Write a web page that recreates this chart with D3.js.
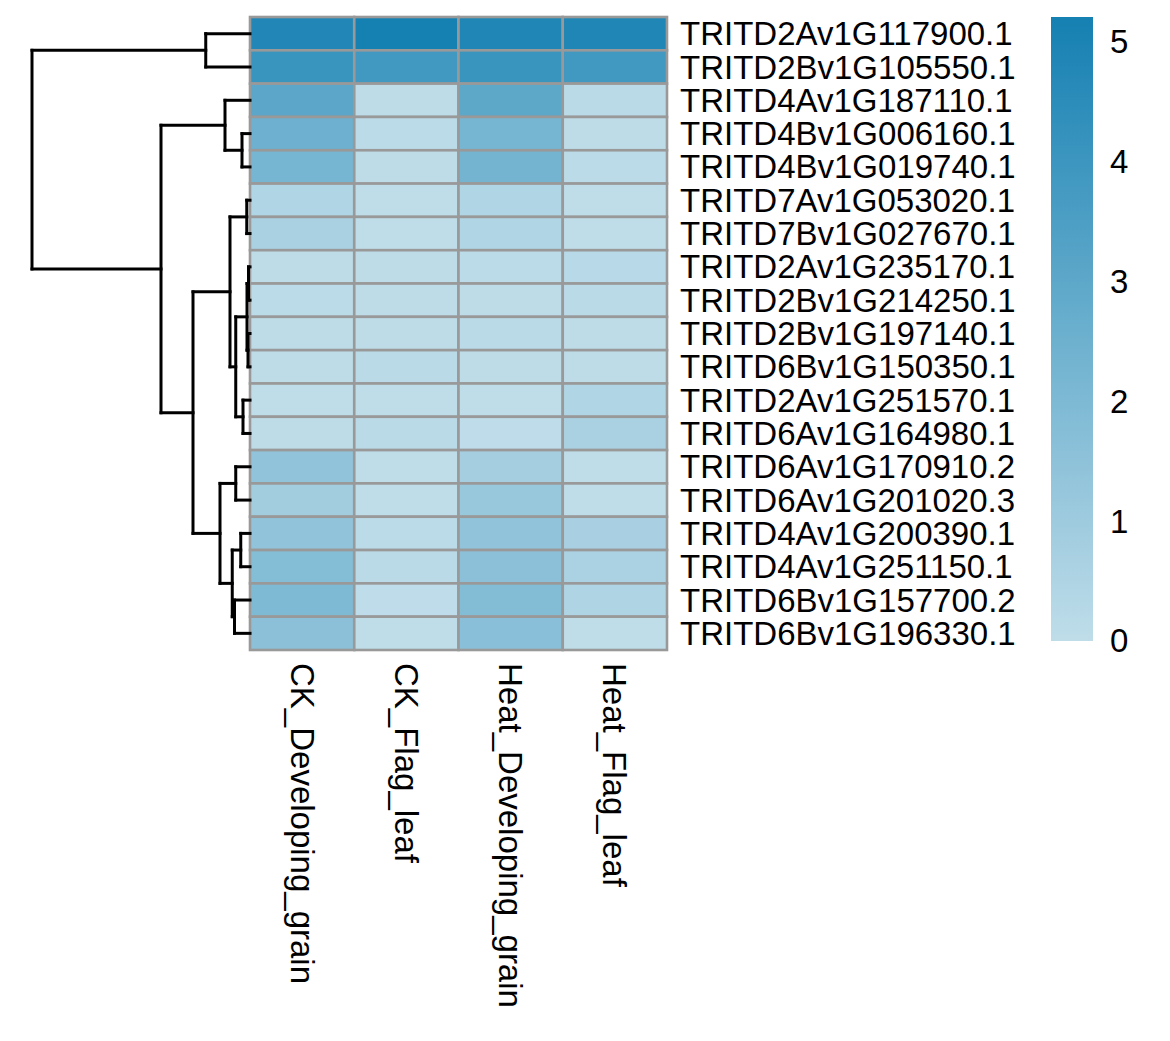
<!DOCTYPE html>
<html>
<head>
<meta charset="utf-8">
<script src="https://cdn.jsdelivr.net/npm/d3@7"></script>
<style>
  html, body { margin: 0; padding: 0; background: #ffffff; }
  svg { display: block; font-family: "Liberation Sans", Arial, sans-serif; }
</style>
</head>
<body>
<svg id="chart" width="1170" height="1041"></svg>
<script>
// ---------------- data ----------------
const rowLabels = [
  "TRITD2Av1G117900.1", "TRITD2Bv1G105550.1", "TRITD4Av1G187110.1",
  "TRITD4Bv1G006160.1", "TRITD4Bv1G019740.1", "TRITD7Av1G053020.1",
  "TRITD7Bv1G027670.1", "TRITD2Av1G235170.1", "TRITD2Bv1G214250.1",
  "TRITD2Bv1G197140.1", "TRITD6Bv1G150350.1", "TRITD2Av1G251570.1",
  "TRITD6Av1G164980.1", "TRITD6Av1G170910.2", "TRITD6Av1G201020.3",
  "TRITD4Av1G200390.1", "TRITD4Av1G251150.1", "TRITD6Bv1G157700.2",
  "TRITD6Bv1G196330.1"
];
const colLabels = ["CK_Developing_grain", "CK_Flag_leaf", "Heat_Developing_grain", "Heat_Flag_leaf"];

const ckDevelopingGrain   = [4.80, 4.10, 3.05, 2.50, 2.20, 0.45, 0.65, 0.05, 0.10, 0.05, 0.05, 0.00, 0.05, 1.40, 0.90, 1.40, 1.80, 1.95, 1.60];
const ckFlagLeaf          = [5.20, 3.85, 0.05, 0.10, 0.05, 0.00, 0.00, 0.05, 0.05, 0.05, 0.15, 0.02, 0.15, 0.02, 0.00, 0.10, 0.15, 0.03, 0.02];
const heatDevelopingGrain = [4.85, 4.10, 3.00, 2.20, 2.30, 0.45, 0.45, 0.10, 0.05, 0.15, 0.05, 0.02, 0.03, 0.80, 1.20, 1.40, 1.60, 1.85, 1.65];
const heatFlagLeaf        = [4.85, 3.85, 0.15, 0.05, 0.10, 0.00, 0.00, 0.20, 0.15, 0.05, 0.05, 0.45, 0.65, 0.02, 0.02, 0.70, 0.60, 0.50, 0.02];
const seriesValues = [ckDevelopingGrain, ckFlagLeaf, heatDevelopingGrain, heatFlagLeaf];

const legendTicks = [0, 1, 2, 3, 4, 5];
const valueRange = [0, 5.2];
const colorStops = ["#bfdde9", "#1580b2"];

// row dendrogram, hclust-style merges: negative = leaf (1-based row), positive = earlier merge
const mergeLeft   = [-1, -4, -3, -6, -8, -10, 5, -12, 7, 4, -14, -16, -18, 12, 11, 10, 3, 1];
const mergeRight  = [-2, -5,  2, -7, -9, -11, 6, -13, 8, 9, -15, -17, -19, 13, 14, 15, 16, 17];
const mergeHeight = [1.77, 0.32, 1.00, 0.13, 0.06, 0.08, 0.12, 0.28, 0.57, 0.80, 0.57, 0.37, 0.62, 0.71, 1.20, 2.28, 3.56, 8.72];

// ---------------- layout ----------------
const svg = d3.select("#chart");
const grid = { left: 250, right: 667, top: 17, bottom: 650 };
const fontSize = 33;

const x = d3.scaleBand().domain(colLabels).range([grid.left, grid.right]).padding(0);
const y = d3.scaleBand().domain(rowLabels).range([grid.top, grid.bottom]).padding(0);
const color = d3.scaleLinear().domain(valueRange).range(colorStops).interpolate(d3.interpolateRgb).clamp(true);

// ---------------- cells ----------------
const cells = [];
colLabels.forEach((c, j) => rowLabels.forEach((r, i) => cells.push({ row: r, col: c, value: seriesValues[j][i] })));

svg.append("g").selectAll("rect").data(cells).join("rect")
  .attr("x", d => x(d.col))
  .attr("y", d => y(d.row))
  .attr("width", x.bandwidth())
  .attr("height", y.bandwidth())
  .attr("fill", d => color(d.value))
  .attr("stroke", "#999999")
  .attr("stroke-width", 2.6);

// ---------------- dendrogram ----------------
function buildNode(ref) {
  if (ref < 0) return { leaf: rowLabels[-ref - 1], height: 0 };
  const k = ref - 1;
  return { height: mergeHeight[k], children: [buildNode(mergeLeft[k]), buildNode(mergeRight[k])] };
}
const root = d3.hierarchy(buildNode(mergeHeight.length));
const hx = d3.scaleLinear().domain([0, d3.max(mergeHeight)]).range([grid.left, 32]);

root.eachAfter(n => {
  n.py = n.children ? d3.mean(n.children, c => c.py) : y(n.data.leaf) + y.bandwidth() / 2;
  n.px = hx(n.data.height);
});

const segs = [];
root.each(n => {
  if (!n.children) return;
  const [a, b] = n.children;
  segs.push([n.px, a.py, n.px, b.py]);
  segs.push([n.px, a.py, a.px, a.py]);
  segs.push([n.px, b.py, b.px, b.py]);
});
svg.append("g").selectAll("line").data(segs).join("line")
  .attr("x1", d => d[0]).attr("y1", d => d[1])
  .attr("x2", d => d[2]).attr("y2", d => d[3])
  .attr("stroke", "#000").attr("stroke-width", 3).attr("stroke-linecap", "square");

// ---------------- row labels ----------------
svg.append("g").selectAll("text").data(rowLabels).join("text")
  .attr("x", grid.right + 13)
  .attr("y", d => y(d) + y.bandwidth() / 2)
  .attr("dy", "0.35em")
  .attr("font-size", fontSize)
  .attr("fill", "#000")
  .text(d => d);

// ---------------- column labels ----------------
svg.append("g").selectAll("text").data(colLabels).join("text")
  .attr("transform", d => `translate(${x(d) + x.bandwidth() / 2},${grid.bottom + 13}) rotate(90)`)
  .attr("dy", "0.35em")
  .attr("font-size", fontSize)
  .attr("fill", "#000")
  .text(d => d);

// ---------------- legend ----------------
const legend = { x: 1051, width: 42, top: 17, bottom: 641 };
const ly = d3.scaleLinear().domain(valueRange).range([legend.bottom, legend.top]);
const defs = svg.append("defs");
const grad = defs.append("linearGradient").attr("id", "lg").attr("x1", 0).attr("y1", 1).attr("x2", 0).attr("y2", 0);
d3.range(0, 1.0001, 0.1).forEach(t => {
  grad.append("stop").attr("offset", t).attr("stop-color", color(valueRange[0] + t * (valueRange[1] - valueRange[0])));
});
svg.append("rect")
  .attr("x", legend.x).attr("y", legend.top)
  .attr("width", legend.width).attr("height", legend.bottom - legend.top)
  .attr("fill", "url(#lg)");

svg.append("g").selectAll("text").data(legendTicks).join("text")
  .attr("x", legend.x + legend.width + 17)
  .attr("y", d => ly(d) - (d === 0 ? 1 : 0))
  .attr("dy", "0.35em")
  .attr("font-size", fontSize)
  .attr("fill", "#000")
  .text(d => d);
</script>
</body>
</html>
